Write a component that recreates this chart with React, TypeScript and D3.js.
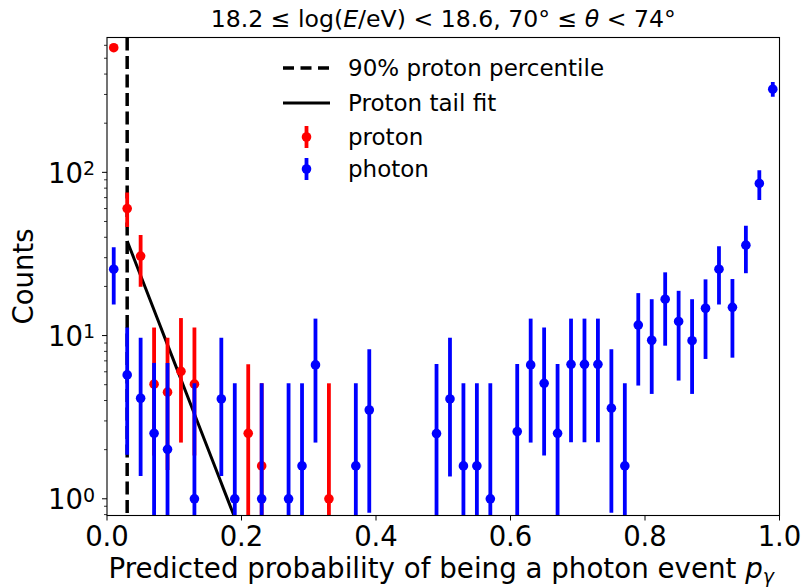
import React from "react";
import * as d3 from "d3";

const protonCenters = [0.01, 0.03, 0.05, 0.07, 0.09, 0.11, 0.13, 0.21, 0.23, 0.33];
const protonCounts = [580, 60, 30.7, 5.04, 4.5, 6.04, 5.04, 2.52, 1.59, 1.0];
const protonLower = [556, 46.2, 19.9, 1.84, 1.5, 2.21, 1.84, 0, 0, 0];
const protonUpper = [604, 75.3, 41.3, 11.2, 9.7, 12.8, 11.2, 6.67, 5.1, 5.1];

const photonCenters = [
  0.01, 0.03, 0.05, 0.07, 0.09, 0.13, 0.17, 0.19, 0.23, 0.27, 0.29, 0.31, 0.37, 0.39,
  0.49, 0.51, 0.53, 0.55, 0.57, 0.61, 0.63, 0.65, 0.67, 0.69, 0.71, 0.73, 0.75, 0.77,
  0.79, 0.81, 0.83, 0.85, 0.87, 0.89, 0.91, 0.93, 0.95, 0.97, 0.99,
];
const photonCounts = [
  25.5, 5.74, 4.13, 2.52, 2.01, 1, 4.09, 1, 1, 1, 1.59, 6.61, 1.59, 3.5,
  2.51, 4.09, 1.59, 1.59, 1, 2.58, 6.61, 5.1, 2.52, 6.67, 6.67, 6.67, 3.59, 1.59,
  11.6, 9.36, 16.7, 12.2, 9.3, 14.7, 25.5, 14.9, 35.8, 85.5, 323,
];
const photonLower = [
  15.5, 1.86, 1.38, 0, 0, 0, 1.38, 0, 0, 0, 0, 2.21, 0, 0.82,
  0, 1.37, 0, 0, 0, 0, 2.21, 1.84, 0, 2.22, 2.22, 2.22, 0.82, 0,
  4.94, 4.39, 8.67, 5.3, 4.39, 7.19, 15.5, 7.32, 24.1, 67.6, 290,
];
const photonUpper = [
  34.7, 11.2, 9.7, 6.8, 6.8, 5.1, 9.7, 5.1, 5.1, 5.1, 5.1, 12.7, 5.1, 8.24,
  6.7, 9.7, 5.1, 5.1, 5.1, 6.7, 12.7, 11.2, 6.7, 12.7, 12.7, 12.7, 8.24, 5.1,
  18.2, 16.7, 24.4, 18.8, 16.7, 22.1, 35.3, 22.2, 47.1, 103, 358,
];

const percentile90 = 0.03;
const fitStart = 0.03;
const fitNorm = 38;
const fitLog10Slope = -10.6;
const fitEnd = 0.25;

const xTicks = [0, 0.2, 0.4, 0.6, 0.8, 1.0];
const yMajorExps = [0, 1, 2];

const W = 803;
const H = 587;
const M = { left: 107, right: 779.5, top: 37.5, bottom: 515.5 };
const FONT = "'DejaVu Sans', sans-serif";

export default function App() {
  const x = d3.scaleLinear().domain([0, 1]).range([M.left, M.right]);
  const y = d3.scaleLog().domain([0.79, 670]).range([M.bottom, M.top]);
  const yc = (v: number) => (v <= 0.79 ? M.bottom + 5 : y(v));

  const minorTicks: number[] = [];
  for (let e = -1; e <= 2; e++) {
    for (let k = 2; k <= 9; k++) {
      const v = k * Math.pow(10, e);
      if (v >= 0.79 && v <= 670) minorTicks.push(v);
    }
  }

  const fitPts: [number, number][] = d3
    .range(0, 41)
    .map((i) => fitStart + ((fitEnd - fitStart) * i) / 40)
    .map((p) => [p, fitNorm * Math.pow(10, fitLog10Slope * (p - fitStart))]);
  const fitLine = d3
    .line<[number, number]>()
    .x((d) => x(d[0]))
    .y((d) => y(d[1]));

  const series = [
    { c: protonCenters, v: protonCounts, lo: protonLower, hi: protonUpper, color: "#ff0000" },
    { c: photonCenters, v: photonCounts, lo: photonLower, hi: photonUpper, color: "#0000ff" },
  ];

  return (
    <div style={{ position: "absolute", left: 0, top: 0 }}>
      <svg width={W} height={H} style={{ display: "block", background: "#fff" }} fontFamily={FONT}>
        <defs>
          <clipPath id="plotclip">
            <rect x={M.left} y={M.top} width={M.right - M.left} height={M.bottom - M.top} />
          </clipPath>
        </defs>
        <text x={(M.left + M.right) / 2} y={27} textAnchor="middle" fontSize={23.6} fill="#000">
          18.2 ≤ log(<tspan fontStyle="italic">E</tspan>/eV) &lt; 18.6, 70° ≤ <tspan fontStyle="italic">θ</tspan> &lt; 74°
        </text>

        <g clipPath="url(#plotclip)">
          <line
            x1={x(percentile90)}
            x2={x(percentile90)}
            y1={M.top}
            y2={M.bottom}
            stroke="#000"
            strokeWidth={3.5}
            strokeDasharray="13,5.5"
          />
          <path d={fitLine(fitPts) || ""} fill="none" stroke="#000" strokeWidth={3} />
          {series.map((s, si) => (
            <g key={si}>
              {s.c.map((c, i) => (
                <g key={i}>
                  <line
                    x1={x(c)}
                    x2={x(c)}
                    y1={yc(s.lo[i])}
                    y2={yc(s.hi[i])}
                    stroke={s.color}
                    strokeWidth={3.8}
                  />
                  <circle cx={x(c)} cy={y(s.v[i])} r={4.8} fill={s.color} />
                </g>
              ))}
            </g>
          ))}
        </g>

        <rect
          x={M.left}
          y={M.top}
          width={M.right - M.left}
          height={M.bottom - M.top}
          fill="none"
          stroke="#000"
          strokeWidth={1.1}
        />

        {xTicks.map((t) => (
          <g key={t}>
            <line x1={x(t)} x2={x(t)} y1={M.bottom} y2={M.bottom + 5} stroke="#000" strokeWidth={1} />
            <text x={x(t)} y={546} textAnchor="middle" fontSize={27.5} fill="#000">
              {t.toFixed(1)}
            </text>
          </g>
        ))}

        {yMajorExps.map((e) => (
          <g key={e}>
            <line x1={M.left - 5} x2={M.left} y1={y(Math.pow(10, e))} y2={y(Math.pow(10, e))} stroke="#000" strokeWidth={1} />
            <text x={95} y={y(Math.pow(10, e)) + 10.3} textAnchor="end" fontSize={27.5} fill="#000">
              10
              <tspan dy={-7.5} fontSize={19}>
                {e}
              </tspan>
            </text>
          </g>
        ))}
        {minorTicks.map((v) => (
          <line key={v} x1={M.left - 3} x2={M.left} y1={y(v)} y2={y(v)} stroke="#000" strokeWidth={0.8} />
        ))}

        <text
          transform={`translate(33, ${(M.top + M.bottom) / 2}) rotate(-90)`}
          textAnchor="middle"
          fontSize={27.5}
          fill="#000"
        >
          Counts
        </text>
        <text x={(M.left + M.right) / 2 - 2} y={578.3} textAnchor="middle" fontSize={27.7} fill="#000">
          Predicted probability of being a photon event{" "}
          <tspan fontStyle="italic">p</tspan>
          <tspan fontStyle="italic" fontSize={19} dy={5}>
            γ
          </tspan>
        </text>

        <g fontSize={23} fill="#000">
          <line x1={283} x2={330} y1={68} y2={68} stroke="#000" strokeWidth={3.5} strokeDasharray="11,6.5" />
          <text x={348} y={76}>90% proton percentile</text>
          <line x1={283} x2={330} y1={103} y2={103} stroke="#000" strokeWidth={3} />
          <text x={348} y={111}>Proton tail fit</text>
          <line x1={306.5} x2={306.5} y1={126} y2={148} stroke="#ff0000" strokeWidth={3.8} />
          <circle cx={306.5} cy={137} r={4.8} fill="#ff0000" />
          <text x={348} y={145}>proton</text>
          <line x1={306.5} x2={306.5} y1={158} y2={180} stroke="#0000ff" strokeWidth={3.8} />
          <circle cx={306.5} cy={169} r={4.8} fill="#0000ff" />
          <text x={348} y={177}>photon</text>
        </g>
      </svg>
    </div>
  );
}
